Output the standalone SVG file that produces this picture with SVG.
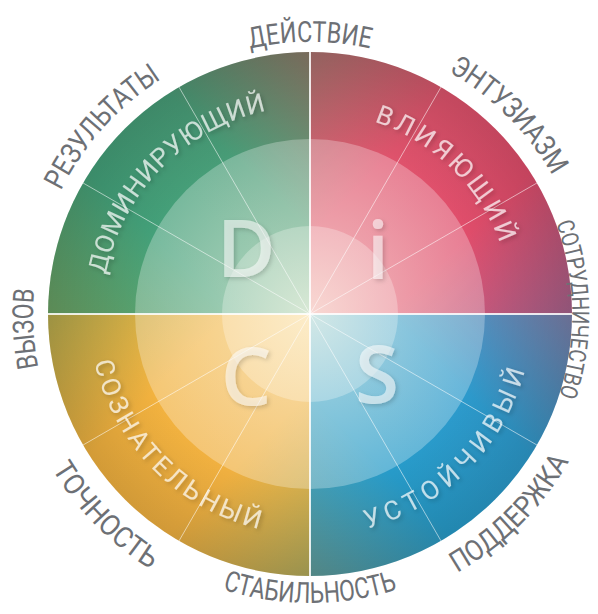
<svg xmlns="http://www.w3.org/2000/svg" xmlns:xlink="http://www.w3.org/1999/xlink" width="598" height="614" viewBox="0 0 598 614">
<style>
.outer{font-family:Roboto,"Liberation Sans",sans-serif;font-size:29px;fill:#6d7075;}
.inner{font-family:Roboto,"Liberation Sans",sans-serif;font-size:26px;fill:#ffffff;fill-opacity:0.7;}
.big{font-family:"Open Sans","Liberation Sans",sans-serif;font-weight:600;font-size:80px;fill:#ffffff;fill-opacity:0.55;text-anchor:middle;}
.cross{stroke:#ffffff;stroke-opacity:0.85;stroke-width:2;}
.ray{stroke:#ffffff;stroke-opacity:0.55;stroke-width:1;}
</style>
<defs>
<linearGradient id="gD" gradientUnits="userSpaceOnUse" x1="48" y1="314" x2="310" y2="52">
<stop offset="0" stop-color="#6a9f62"/><stop offset="0.35" stop-color="#43a079"/><stop offset="0.65" stop-color="#489c77"/><stop offset="1" stop-color="#8a7a68"/>
</linearGradient>
<linearGradient id="gI" gradientUnits="userSpaceOnUse" x1="310" y1="52" x2="572" y2="314">
<stop offset="0" stop-color="#a8716d"/><stop offset="0.35" stop-color="#df536c"/><stop offset="0.65" stop-color="#e04d6b"/><stop offset="1" stop-color="#a4618a"/>
</linearGradient>
<linearGradient id="gS" gradientUnits="userSpaceOnUse" x1="572" y1="314" x2="310" y2="576">
<stop offset="0" stop-color="#7a7ea8"/><stop offset="0.35" stop-color="#2d9acc"/><stop offset="0.65" stop-color="#279bc9"/><stop offset="1" stop-color="#5f9a98"/>
</linearGradient>
<linearGradient id="gC" gradientUnits="userSpaceOnUse" x1="310" y1="576" x2="48" y2="314">
<stop offset="0" stop-color="#b0a85a"/><stop offset="0.35" stop-color="#f0b040"/><stop offset="0.65" stop-color="#f2b23f"/><stop offset="1" stop-color="#b3a84c"/>
</linearGradient>
<radialGradient id="edge" gradientUnits="userSpaceOnUse" cx="310" cy="314" r="262">
<stop offset="0.67" stop-color="#000" stop-opacity="0"/><stop offset="1" stop-color="#000" stop-opacity="0.13"/>
</radialGradient>
<radialGradient id="glow" gradientUnits="userSpaceOnUse" cx="310" cy="314" r="175">
<stop offset="0" stop-color="#fffbe8" stop-opacity="0.6"/><stop offset="0.5" stop-color="#fffbe8" stop-opacity="0.25"/><stop offset="1" stop-color="#fffbe8" stop-opacity="0"/>
</radialGradient>
<filter id="sh" x="-20%" y="-20%" width="140%" height="140%">
<feDropShadow dx="2" dy="2" stdDeviation="2" flood-color="#000" flood-opacity="0.3"/>
</filter>
<path id="pDei" d="M42.1,266.8 A272,272 0 0 1 577.9,266.8"/>
<path id="pEnt" d="M150,85.4 A279,279 0 0 1 538.6,474"/>
<path id="pSot" d="M351,55.2 A262,262 0 0 1 360,571.2"/>
<path id="pVyz" d="M276.2,588.9 A277,277 0 0 1 247.7,44.1"/>
<path id="pRez" d="M90.9,485.2 A278,278 0 0 1 457.3,78.3"/>
<path id="pPod" d="M139.1,558.1 A298,298 0 0 0 554.1,143.1"/>
<path id="pSta" d="M25.4,364.2 A289,289 0 0 0 594.6,364.2"/>
<path id="pToc" d="M65,139.2 A301,301 0 0 0 480.5,562.1"/>
<path id="pDom" d="M140.9,435.1 A208,208 0 0 1 427.5,142.4"/>
<path id="pVli" d="M190.7,149.8 A203,203 0 0 1 478.3,427.5"/>
<path id="pSoz" d="M129.9,186 A221,221 0 0 0 435.5,495.9"/>
<path id="pUst" d="M182.7,495.9 A222,222 0 0 0 491.9,186.7"/>
</defs>

<g id="wheel">
<path d="M310,314 L48,314 A262,262 0 0 1 310,52 Z" fill="url(#gD)"/>
<path d="M310,314 L310,52 A262,262 0 0 1 572,314 Z" fill="url(#gI)"/>
<path d="M310,314 L572,314 A262,262 0 0 1 310,576 Z" fill="url(#gS)"/>
<path d="M310,314 L310,576 A262,262 0 0 1 48,314 Z" fill="url(#gC)"/>
<circle cx="310" cy="314" r="262" fill="url(#edge)"/>
<circle cx="310" cy="314" r="175" fill="#ffffff" fill-opacity="0.28"/>
<circle cx="310" cy="314" r="88" fill="#ffffff" fill-opacity="0.28"/>
<circle cx="310" cy="314" r="175" fill="url(#glow)"/>
</g>

<g id="connectors">
<line class="cross" x1="310" y1="52" x2="310" y2="576"/>
<line class="cross" x1="48" y1="314" x2="572" y2="314"/>
<line class="ray" x1="310" y1="314" x2="441" y2="87.1"/>
<line class="ray" x1="310" y1="314" x2="536.9" y2="183"/>
<line class="ray" x1="310" y1="314" x2="536.9" y2="445"/>
<line class="ray" x1="310" y1="314" x2="441" y2="540.9"/>
<line class="ray" x1="310" y1="314" x2="179" y2="540.9"/>
<line class="ray" x1="310" y1="314" x2="83.1" y2="445"/>
<line class="ray" x1="310" y1="314" x2="83.1" y2="183"/>
<line class="ray" x1="310" y1="314" x2="179" y2="87.1"/>
</g>

<g id="node-D" filter="url(#sh)">
<text class="big" x="246" y="277">D</text>
<text class="inner"><textPath xlink:href="#pDom" href="#pDom" startOffset="50%" text-anchor="middle" textLength="243" lengthAdjust="spacing">ДОМИНИРУЮЩИЙ</textPath></text>
</g>
<g id="node-i" filter="url(#sh)">
<text class="big" x="378" y="279">i</text>
<text class="inner"><textPath xlink:href="#pVli" href="#pVli" startOffset="50%" text-anchor="middle" textLength="181" lengthAdjust="spacing">ВЛИЯЮЩИЙ</textPath></text>
</g>
<g id="node-S" filter="url(#sh)">
<text class="big" x="377" y="403">S</text>
<text class="inner"><textPath xlink:href="#pUst" href="#pUst" startOffset="50%" text-anchor="middle" textLength="234" lengthAdjust="spacing">УСТОЙЧИВЫЙ</textPath></text>
</g>
<g id="node-C" filter="url(#sh)">
<text class="big" x="246" y="405">C</text>
<text class="inner"><textPath xlink:href="#pSoz" href="#pSoz" startOffset="50%" text-anchor="middle" textLength="247" lengthAdjust="spacing">СОЗНАТЕЛЬНЫЙ</textPath></text>
</g>

<g id="labels">
<text class="outer"><textPath xlink:href="#pDei" href="#pDei" startOffset="50%" text-anchor="middle" textLength="121" lengthAdjust="spacingAndGlyphs">ДЕЙСТВИЕ</textPath></text>
<text class="outer"><textPath xlink:href="#pEnt" href="#pEnt" startOffset="50%" text-anchor="middle" textLength="149" lengthAdjust="spacingAndGlyphs">ЭНТУЗИАЗМ</textPath></text>
<text class="outer" style="font-size:24px"><textPath xlink:href="#pSot" href="#pSot" startOffset="50%" text-anchor="middle" textLength="176" lengthAdjust="spacingAndGlyphs">СОТРУДНИЧЕСТВО</textPath></text>
<text class="outer"><textPath xlink:href="#pPod" href="#pPod" startOffset="50%" text-anchor="middle" textLength="160" lengthAdjust="spacingAndGlyphs">ПОДДЕРЖКА</textPath></text>
<text class="outer"><textPath xlink:href="#pSta" href="#pSta" startOffset="50%" text-anchor="middle" textLength="178" lengthAdjust="spacingAndGlyphs">СТАБИЛЬНОСТЬ</textPath></text>
<text class="outer"><textPath xlink:href="#pToc" href="#pToc" startOffset="50%" text-anchor="middle" textLength="142" lengthAdjust="spacingAndGlyphs">ТОЧНОСТЬ</textPath></text>
<text class="outer"><textPath xlink:href="#pVyz" href="#pVyz" startOffset="50%" text-anchor="middle" textLength="79" lengthAdjust="spacingAndGlyphs">ВЫЗОВ</textPath></text>
<text class="outer"><textPath xlink:href="#pRez" href="#pRez" startOffset="50%" text-anchor="middle" textLength="152" lengthAdjust="spacingAndGlyphs">РЕЗУЛЬТАТЫ</textPath></text>
</g>
</svg>
